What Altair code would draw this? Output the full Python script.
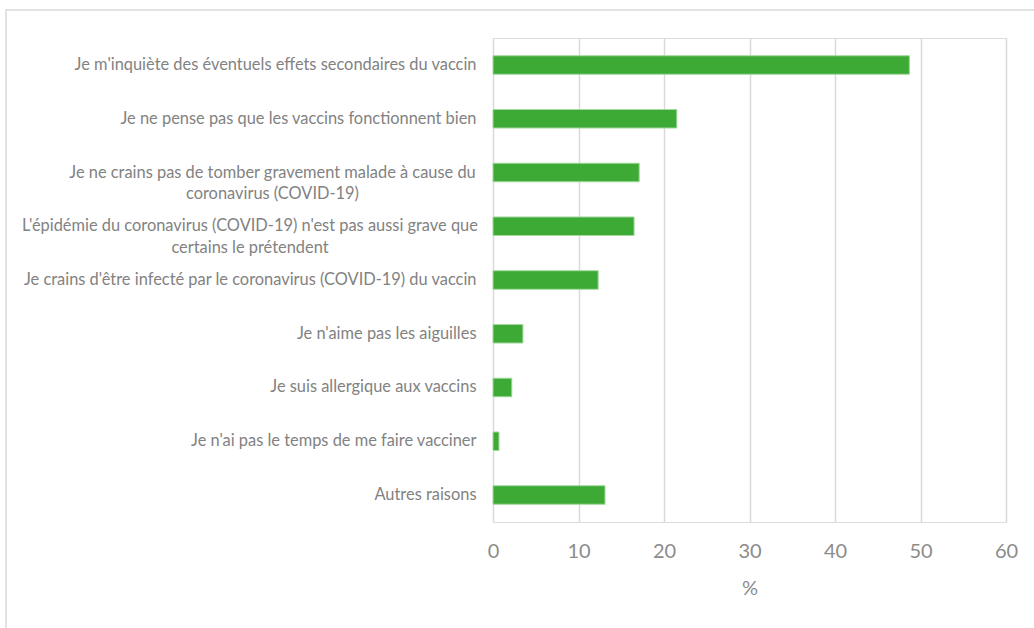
import altair as alt
import pandas as pd

reasons = [
    "Je m'inquiète des éventuels effets secondaires du vaccin",
    "Je ne pense pas que les vaccins fonctionnent bien",
    "Je ne crains pas de tomber gravement malade à cause du|coronavirus (COVID-19)",
    "L'épidémie du coronavirus (COVID-19) n'est pas aussi grave que|certains le prétendent",
    "Je crains d'être infecté par le coronavirus (COVID-19) du vaccin",
    "Je n'aime pas les aiguilles",
    "Je suis allergique aux vaccins",
    "Je n'ai pas le temps de me faire vacciner",
    "Autres raisons",
]
values = [48.7, 21.5, 17.1, 16.5, 12.3, 3.5, 2.2, 0.7, 13.1]
x_ticks = [0, 10, 20, 30, 40, 50, 60]

df = pd.DataFrame({"reason": reasons, "value": values})

FONT = "Lato"
multi = "indexof(datum.value, '|') >= 0"

bars = alt.Chart(df).mark_bar(
    color="#3DAA35", stroke="#a3d89e", strokeWidth=1
).encode(
    x=alt.X(
        "value:Q",
        scale=alt.Scale(domain=[0, 60], nice=False),
        axis=alt.Axis(
            values=x_ticks,
            title="%",
            titleFont=FONT,
            titleFontSize=20,
            titleFontWeight="normal",
            titleColor="#8c8c8c",
            titlePadding=17,
            labelFont=FONT,
            labelFontSize=20,
            labelColor="#8c8c8c",
            labelPadding=19,
            labelFlush=False,
            domain=False,
            ticks=False,
            grid=True,
            gridColor="#d9d9d9",
            gridWidth=1.5,
        ),
    ),
    y=alt.Y(
        "reason:N",
        sort=reasons,
        scale=alt.Scale(paddingInner=0.655, paddingOuter=0.33),
        axis=alt.Axis(
            title=None,
            labelFont=FONT,
            labelFontSize=16.4,
            labelColor="#828282",
            labelLimit=0,
            labelLineHeight=21.5,
            labelExpr="split(datum.value, '|')",
            labelAlign=alt.condition(multi, alt.value("center"), alt.value("right")),
            labelPadding=alt.condition(
                multi,
                {"expr": "indexof(datum.value, 'pidémie') >= 0 ? 243.5 : 221"},
                alt.value(17),
            ),
            domain=False,
            ticks=False,
            grid=False,
        ),
    ),
)

frame = alt.Chart(df).mark_rect(
    fill=None, stroke="#d9d9d9", strokeWidth=1.5
).encode(
    x=alt.value(-487), x2=alt.value(560), y=alt.value(-28), y2=alt.value(620)
).transform_filter("datum.value == 48.7")

chart = alt.layer(frame, bars).properties(
    width=513,
    height=484,
    autosize=alt.AutoSizeParams(type="none"),
    padding={"left": 493, "top": 38, "right": 28, "bottom": 106},
).configure_view(stroke=None).configure(background="white")

chart.save("out.html", embed_options={"renderer": "svg", "actions": False})
